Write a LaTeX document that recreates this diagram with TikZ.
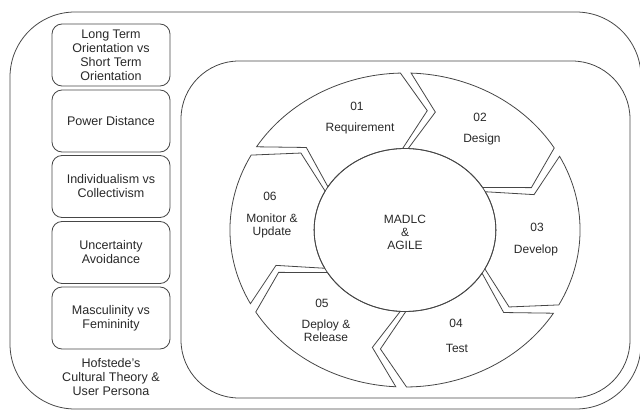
\documentclass[tikz,border=0pt]{standalone}
\usepackage{fontspec}
\setmainfont{Liberation Sans}

\definecolor{linegray}{RGB}{70,70,70}
\definecolor{textgray}{RGB}{40,40,40}

\tikzset{
  roundframe/.style={draw=linegray, line width=0.6pt, rounded corners=#1},
  factorbox/.style={draw=linegray, line width=0.6pt, rounded corners=7.5pt,
    minimum width=88.5pt, minimum height=46.5pt, inner sep=0pt,
    align=center, text=textgray, font=\fontsize{9.4}{10.5}\selectfont},
  phase/.style={draw=linegray, line width=0.6pt, line join=miter},
  phasetext/.style={inner sep=0pt, text=textgray, align=center,
    font=\fontsize{9}{9.75}\selectfont},
}

\begin{document}
\begin{tikzpicture}[x=0.75pt,y=0.75pt,yscale=-1,xscale=1]
\useasboundingbox (0,0) rectangle (640,410);

%Shape: Rounded Rect [outer frame]
\draw [roundframe=48.75pt] (10,12) rectangle (641,409);
%Shape: Rounded Rect [inner frame]
\draw [roundframe=43.5pt] (181,61) rectangle (630,398);

% Hofstede dimensions
\node [factorbox] (lto) at (111,55) {Long Term\\Orientation vs\\Short Term\\Orientation};
\node [factorbox] (pdi) at (111,121) {Power Distance};
\node [factorbox] (idv) at (111,186.5) {Individualism vs\\Collectivism};
\node [factorbox] (uai) at (111,252.5) {Uncertainty\\Avoidance};
\node [factorbox] (mas) at (111,318) {Masculinity vs\\Femininity};
% Text Node
\node [phasetext, font=\fontsize{9.4}{10.5}\selectfont] (hofstede) at (111,377) {Hofstede's\\Cultural Theory \&\\User Persona};

% life cycle ring, drawn round its centre with y pointing up
\begin{scope}[shift={(405,230)}, xscale=1.115, yscale=-1]
%Shape: Chevron arc 01
\draw [phase] (148:157) arc[start angle=148, end angle=91.5, radius=157] -- (80.5:121) -- (91.5:81.5) arc[start angle=91.5, end angle=148, radius=81.5] -- (137:121) -- cycle;
%Shape: Chevron arc 02
\draw [phase] (88:157) arc[start angle=88, end angle=31.5, radius=157] -- (20.5:121) -- (31.5:81.5) arc[start angle=31.5, end angle=88, radius=81.5] -- (77:121) -- cycle;
%Shape: Chevron arc 03
\draw [phase] (28:157) arc[start angle=28, end angle=-28.5, radius=157] -- (-39.5:121) -- (-28.5:81.5) arc[start angle=-28.5, end angle=28, radius=81.5] -- (17:121) -- cycle;
%Shape: Chevron arc 04
\draw [phase] (-32:157) arc[start angle=-32, end angle=-89.5, radius=157] -- (-100.5:121) -- (-89.5:81.5) arc[start angle=-89.5, end angle=-32, radius=81.5] -- (-43:121) -- cycle;
%Shape: Chevron arc 05
\draw [phase] (-93:157) arc[start angle=-93, end angle=-148.5, radius=157] -- (-159.5:121) -- (-148.5:81.5) arc[start angle=-148.5, end angle=-93, radius=81.5] -- (-104:121) -- cycle;
%Shape: Chevron arc 06
\draw [phase] (-152:157) arc[start angle=-152, end angle=-208.5, radius=157] -- (-219.5:121) -- (-208.5:81.5) arc[start angle=-208.5, end angle=-152, radius=81.5] -- (-163:121) -- cycle;
%Shape: Circle [hub]
\draw [phase] (0,0) circle [radius=81.5];
\end{scope}

% Text Node
\node [phasetext] (hub) at (405,232) {MADLC\\\&\\AGILE};
% Text Node
\node [phasetext, anchor=base] (n01) at (357,110.3) {01};
\node [phasetext, anchor=base] (req) at (360,131.5) {Requirement};
% Text Node
\node [phasetext, anchor=base] (n02) at (480,121.3) {02};
\node [phasetext, anchor=base] (des) at (482,142.3) {Design};
% Text Node
\node [phasetext, anchor=base] (n03) at (537,231.3) {03};
\node [phasetext, anchor=base] (dev) at (536,253.3) {Develop};
% Text Node
\node [phasetext, anchor=base] (n04) at (456,327.3) {04};
\node [phasetext, anchor=base] (tst) at (457,352.3) {Test};
% Text Node
\node [phasetext, anchor=base] (n05) at (322,307.3) {05};
\node [phasetext] (dep) at (326,330.5) {Deploy \&\\Release};
% Text Node
\node [phasetext, anchor=base] (n06) at (270,200.3) {06};
\node [phasetext] (mon) at (272,225.5) {Monitor \&\\Update};

\end{tikzpicture}
\end{document}
